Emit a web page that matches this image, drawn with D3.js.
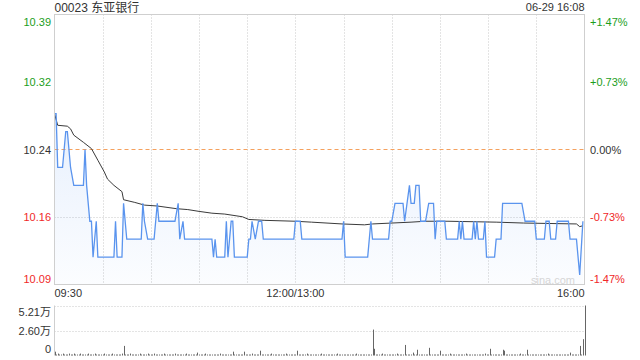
<!DOCTYPE html>
<html lang="zh">
<head>
<meta charset="utf-8">
<script src="https://cdn.jsdelivr.net/npm/d3@7"></script>
<style>
  body { margin: 0; background: #fff; }
  text { font-family: "Liberation Sans", Arial, "Noto Sans CJK SC", sans-serif; }
</style>
</head>
<body>
<script>
    // quote header
    const stockName = '00023 东亚银行';
    const stamp = '06-29 16:08';
    const prevClose = 10.24;

    // left / right axis labels, top to bottom
    const priceLabels = ['10.39', '10.32', '10.24', '10.16', '10.09'];
    const pctValues = [1.47, 0.73, 0, -0.73, -1.47];
    const pctLabels = ['+1.47%', '+0.73%', '0.00%', '-0.73%', '-1.47%'];
    const timeLabels = ['09:30', '12:00/13:00', '16:00'];
    const volLabels = ['5.21万', '2.60万', '0'];

    // [minute from 09:30 (lunch removed), price]
    const pricePts = [
        [0, 10.28], [1, 10.28], [2, 10.22], [5, 10.22], [7, 10.26], [8, 10.26], [10, 10.22], [12, 10.20],
        [18, 10.20], [19, 10.24], [20, 10.20], [22, 10.16], [23, 10.16], [24, 10.12], [26, 10.16], [27, 10.12],
        [37, 10.12], [38, 10.16], [39, 10.12], [42, 10.12], [43, 10.18], [45, 10.14], [54, 10.14], [55, 10.18],
        [56, 10.16], [58, 10.14], [62, 10.14], [64, 10.18], [65, 10.16], [75, 10.16], [77, 10.18], [78, 10.14],
        [80, 10.16], [81, 10.14], [98, 10.14], [99, 10.12], [100, 10.14], [101, 10.12], [106, 10.12], [107, 10.16],
        [108, 10.12], [110, 10.16], [111, 10.16], [112, 10.12], [120, 10.12], [121, 10.14], [122, 10.14], [123, 10.16],
        [125, 10.14], [127, 10.16], [129, 10.16], [130, 10.14], [149, 10.14], [150, 10.16], [153, 10.16], [154, 10.14],
        [179, 10.14], [180, 10.16], [181, 10.12], [195, 10.12], [197, 10.16], [198, 10.14], [208, 10.14], [209, 10.16],
        [210, 10.16], [212, 10.18], [217, 10.18], [218, 10.16], [221, 10.20], [222, 10.18], [224, 10.18], [225, 10.20],
        [227, 10.20], [228, 10.16], [231, 10.16], [233, 10.18], [236, 10.18], [237, 10.14], [238, 10.16], [243, 10.16],
        [244, 10.14], [251, 10.14], [252, 10.16], [253, 10.14], [254, 10.16], [255, 10.14], [260, 10.14], [261, 10.16],
        [262, 10.14], [263, 10.16], [264, 10.14], [267, 10.14], [268, 10.16], [269, 10.12], [274, 10.12], [275, 10.14],
        [278, 10.14], [279, 10.18], [291, 10.18], [293, 10.16], [299, 10.16], [300, 10.14], [305, 10.14], [306, 10.16],
        [308, 10.16], [309, 10.14], [312, 10.14], [313, 10.16], [320, 10.16], [321, 10.14], [325, 10.14], [327, 10.10],
        [329, 10.16]
    ];

    // average price line
    const avgPts = [
        [0, 10.28], [2, 10.267], [8, 10.266], [10, 10.263], [12, 10.256], [18, 10.248], [23, 10.241], [27, 10.228],
        [31, 10.215], [33, 10.207], [37, 10.2], [42, 10.193], [43, 10.184], [50, 10.181], [56, 10.178], [64, 10.177],
        [76, 10.174], [83, 10.173], [90, 10.171], [98, 10.169], [106, 10.168], [117, 10.165], [121, 10.162], [131, 10.161],
        [150, 10.16], [160, 10.159], [179, 10.157], [193, 10.156], [198, 10.157], [222, 10.159], [231, 10.16], [245, 10.16],
        [275, 10.159], [292, 10.158], [325, 10.157], [327, 10.154], [329, 10.155]
    ];

    // volume per minute, thousands of shares
    const volK = [
        4, 1, 2, 1, 1, 2, 1, 1, 1, 2, 1, 1, 2, 1, 1, 1, 2, 1, 1, 1, 1, 2, 1, 1, 1, 2, 1, 1, 1, 1,
        1, 2, 1, 1, 1, 1, 2, 1, 1, 1, 1, 1, 2, 10, 1, 1, 1, 2, 1, 1, 1, 1, 1, 2, 1, 1, 1, 1, 2, 1,
        1, 1, 2, 1, 1, 1, 1, 1, 2, 1, 1, 1, 1, 1, 1, 2, 1, 1, 1, 1, 1, 1, 2, 1, 1, 1, 1, 1, 1, 3,
        1, 1, 1, 1, 2, 1, 1, 1, 1, 1, 1, 1, 1, 2, 1, 1, 1, 1, 1, 1, 1, 4, 1, 1, 1, 1, 1, 1, 4, 1,
        1, 1, 1, 2, 1, 1, 1, 1, 5, 1, 1, 1, 1, 1, 1, 2, 1, 1, 1, 1, 1, 1, 1, 1, 2, 1, 1, 1, 1, 1,
        1, 5, 1, 1, 1, 1, 1, 2, 1, 1, 1, 1, 1, 1, 1, 1, 2, 1, 1, 1, 1, 1, 1, 1, 1, 1, 2, 1, 1, 1,
        1, 1, 1, 1, 1, 1, 1, 1, 2, 1, 1, 1, 1, 1, 1, 1, 1, 1, 27, 7, 1, 1, 1, 1, 2, 1, 1, 1, 1, 1,
        1, 1, 1, 2, 1, 1, 1, 1, 11, 1, 1, 1, 1, 3, 1, 1, 6, 1, 1, 1, 1, 1, 1, 8, 1, 1, 1, 1, 1, 1,
        5, 1, 1, 1, 1, 1, 2, 1, 1, 1, 1, 1, 1, 1, 1, 1, 2, 1, 1, 1, 1, 1, 1, 1, 1, 1, 1, 1, 2, 1,
        1, 7, 1, 1, 1, 1, 1, 1, 1, 6, 5, 1, 1, 1, 1, 1, 1, 1, 1, 1, 2, 1, 1, 1, 6, 1, 1, 1, 1, 1,
        1, 1, 1, 1, 1, 1, 1, 2, 1, 1, 1, 1, 1, 1, 1, 1, 1, 1, 1, 1, 1, 3, 1, 1, 1, 1, 1, 10, 1, 17,
        52.1
    ];

    const W = 640, H = 360;
    const plotL = 54.5, plotR = 584.5;
    const plotT = 14.5, plotB = 284.5;
    const volT = 305.5, volB = 355.5;
    const maxPct = 1.47;

    const green = '#1c9e1c', red = '#f02828', ink = '#333';
    const colorOf = (p) => p > 0 ? green : (p < 0 ? red : ink);

    const x = d3.scaleLinear().domain([0, 330]).range([plotL, plotR]);
    const y = d3.scaleLinear()
        .domain([prevClose * (1 - maxPct / 100), prevClose * (1 + maxPct / 100)])
        .range([plotB, plotT]);
    const pctY = d3.scaleLinear().domain([-maxPct, maxPct]).range([plotB, plotT]);
    const vy = d3.scaleLinear().domain([0, 52.1]).range([volB, volT]);

    const svg = d3.select('body').append('svg')
        .attr('width', W)
        .attr('height', H);

    // headers
    svg.append('text')
        .attr('x', plotL).attr('y', 12)
        .attr('font-size', 12).attr('fill', ink)
        .text(stockName);
    svg.append('text')
        .attr('x', plotR).attr('y', 11)
        .attr('font-size', 11).attr('fill', ink)
        .attr('text-anchor', 'end')
        .text(stamp);

    // vertical grid every 30 minutes
    svg.append('g')
        .selectAll('line')
        .data(d3.range(30, 330, 30))
        .join('line')
        .attr('x1', d => Math.round(x(d)) + 0.5).attr('x2', d => Math.round(x(d)) + 0.5)
        .attr('y1', plotT).attr('y2', plotB)
        .attr('stroke', '#c8c8c8')
        .attr('stroke-dasharray', '1,2');

    // horizontal grid at -0.73%
    svg.append('line')
        .attr('x1', plotL).attr('x2', plotR)
        .attr('y1', Math.round(pctY(-0.735)) + 0.5).attr('y2', Math.round(pctY(-0.735)) + 0.5)
        .attr('stroke', '#c8c8c8')
        .attr('stroke-dasharray', '1,2');

    // gradient under price line
    const grad = svg.append('defs').append('linearGradient')
        .attr('id', 'fillGrad')
        .attr('gradientUnits', 'userSpaceOnUse')
        .attr('x1', 0).attr('x2', 0)
        .attr('y1', plotT).attr('y2', plotB);
    grad.append('stop').attr('offset', 0).attr('stop-color', '#4b8cf0').attr('stop-opacity', 0.2);
    grad.append('stop').attr('offset', 1).attr('stop-color', '#4b8cf0').attr('stop-opacity', 0.02);

    const area = d3.area()
        .x(d => x(d[0]))
        .y0(plotB)
        .y1(d => y(d[1]));
    svg.append('path')
        .datum(pricePts)
        .attr('d', area)
        .attr('fill', 'url(#fillGrad)');

    // previous close
    svg.append('line')
        .attr('x1', plotL).attr('x2', plotR)
        .attr('y1', Math.round(y(prevClose)) + 0.5).attr('y2', Math.round(y(prevClose)) + 0.5)
        .attr('stroke', '#f5a15e')
        .attr('stroke-dasharray', '4,3');

    const line = d3.line()
        .x(d => x(d[0]))
        .y(d => y(d[1]));

    svg.append('path')
        .datum(avgPts)
        .attr('d', line)
        .attr('fill', 'none')
        .attr('stroke', '#3a3a3a')
        .attr('stroke-width', 1);

    svg.append('path')
        .datum(pricePts)
        .attr('d', line)
        .attr('fill', 'none')
        .attr('stroke', '#5a94ee')
        .attr('stroke-width', 1.3);

    // frame
    svg.append('rect')
        .attr('x', plotL).attr('y', plotT)
        .attr('width', plotR - plotL).attr('height', plotB - plotT)
        .attr('fill', 'none')
        .attr('stroke', '#cfcfcf');

    // watermark
    svg.append('text')
        .attr('x', 553).attr('y', 284)
        .attr('text-anchor', 'middle')
        .attr('font-size', 11).attr('fill', '#d6d6d6')
        .text('sina.com');

    // price labels left, pct labels right
    const labelY = (i) => {
        const yy = pctY(pctValues[i]);
        if (i === 0) return yy + 11;
        if (i === pctValues.length - 1) return yy - 2;
        return yy + 4;
    };
    svg.append('g')
        .selectAll('text')
        .data(priceLabels)
        .join('text')
        .attr('x', 51)
        .attr('y', (d, i) => labelY(i))
        .attr('text-anchor', 'end')
        .attr('font-size', 11)
        .attr('fill', (d, i) => colorOf(pctValues[i]))
        .text(d => d);
    svg.append('g')
        .selectAll('text')
        .data(pctLabels)
        .join('text')
        .attr('x', 590)
        .attr('y', (d, i) => labelY(i))
        .attr('font-size', 11)
        .attr('fill', (d, i) => colorOf(pctValues[i]))
        .text(d => d);

    // time labels
    const timeAnchor = ['start', 'middle', 'end'];
    const timePos = [0, 150, 330];
    svg.append('g')
        .selectAll('text')
        .data(timeLabels)
        .join('text')
        .attr('x', (d, i) => x(timePos[i]))
        .attr('y', 297)
        .attr('text-anchor', (d, i) => timeAnchor[i])
        .attr('font-size', 11)
        .attr('fill', ink)
        .text(d => d);

    // volume panel
    svg.append('g')
        .selectAll('line')
        .data([52.1, 26.05])
        .join('line')
        .attr('x1', plotL).attr('x2', plotR)
        .attr('y1', d => Math.round(vy(d)) + 0.5).attr('y2', d => Math.round(vy(d)) + 0.5)
        .attr('stroke', '#c8c8c8')
        .attr('stroke-dasharray', '1,2');
    svg.append('line')
        .attr('x1', plotL).attr('x2', plotL)
        .attr('y1', volT).attr('y2', volB)
        .attr('stroke', '#cfcfcf');

    svg.append('g')
        .selectAll('line')
        .data(volK)
        .join('line')
        .attr('x1', (d, i) => Math.round(x(i)) + 0.5)
        .attr('x2', (d, i) => Math.round(x(i)) + 0.5)
        .attr('y1', volB)
        .attr('y2', d => vy(d))
        .attr('stroke', '#666');

    const volVals = [52.1, 26.05, 0];
    svg.append('g')
        .selectAll('text')
        .data(volLabels)
        .join('text')
        .attr('x', 51)
        .attr('y', (d, i) => vy(volVals[i]) + (i === 0 ? 10 : (i === 2 ? -3 : 4)))
        .attr('text-anchor', 'end')
        .attr('font-size', 11)
        .attr('fill', ink)
        .text(d => d);
</script>
</body>
</html>
